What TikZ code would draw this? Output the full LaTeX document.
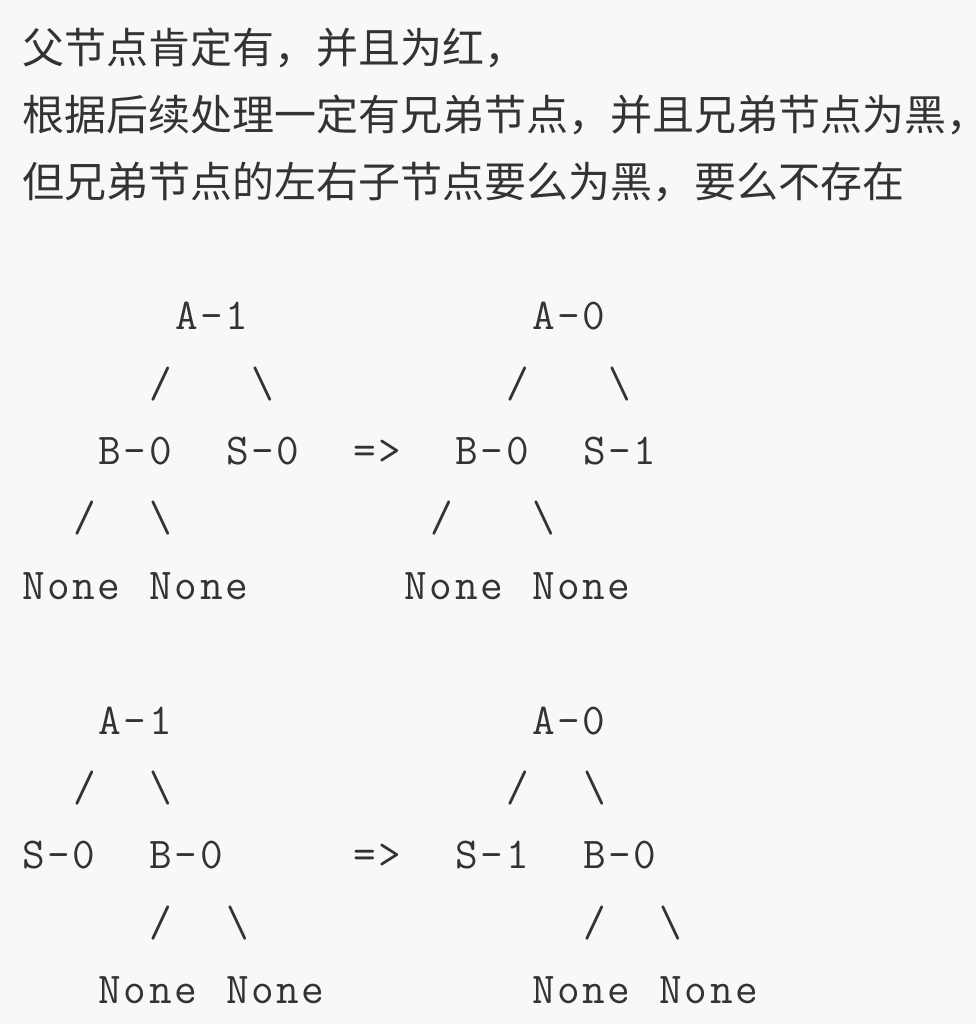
\documentclass[tikz,border=0pt]{standalone}
\usepackage{fontspec}
\usepackage{xcolor}
\setmonofont[LetterSpace=5.5]{Latin Modern Mono}
\newfontfamily\cjk{Noto Sans CJK SC}
\definecolor{pagebg}{RGB}{248,248,248}
\definecolor{inkgray}{RGB}{51,51,51}

\begin{document}
\begin{tikzpicture}[
    x=0.5pt, y=-0.5pt,
    note/.style={
        anchor=base west,
        inner sep=0pt,
        font=\cjk\fontsize{21}{21}\selectfont,
        text=inkgray
    },
    mono/.style={
        anchor=base west,
        inner sep=0pt,
        font=\ttfamily\fontsize{22}{22}\selectfont,
        text=inkgray
    }
]
\def\cw{25.5}
\fill[pagebg] (0,0) rectangle (976,1024);
\useasboundingbox (0,0) rectangle (976,1024);

% Explanation above the two cases.
\node[note] (note1) at (22,63)    {父节点肯定有，并且为红，};
\node[note] (note2) at (22,130.4) {根据后续处理一定有兄弟节点，并且兄弟节点为黑，};
\node[note] (note3) at (22,197.8) {但兄弟节点的左右子节点要么为黑，要么不存在};

% ASCII trees, one entry per text row: row number / column of each token.
\foreach \r/\items in {
    4/{6/A-1,20/A-0},
    5/{5/{/},9/\textbackslash,19/{/},23/\textbackslash},
    6/{3/B-0,8/S-0,13/=>,17/B-0,22/S-1},
    7/{2/{/},5/\textbackslash,16/{/},20/\textbackslash},
    8/{0/None,5/None,15/None,20/None},
    10/{3/A-1,20/A-0},
    11/{2/{/},5/\textbackslash,19/{/},22/\textbackslash},
    12/{0/S-0,5/B-0,13/=>,17/S-1,22/B-0},
    13/{5/{/},8/\textbackslash,22/{/},25/\textbackslash},
    14/{3/None,8/None,20/None,25/None}%
} {
    \pgfmathsetmacro{\y}{47+67.4*\r+13}
    \foreach \c/\t [count=\k] in \items {
        \pgfmathsetmacro{\x}{22+\cw*\c}
        \node[mono] (t\r-\k) at (\x,\y) {\t};
    }
}

\end{tikzpicture}
\end{document}
